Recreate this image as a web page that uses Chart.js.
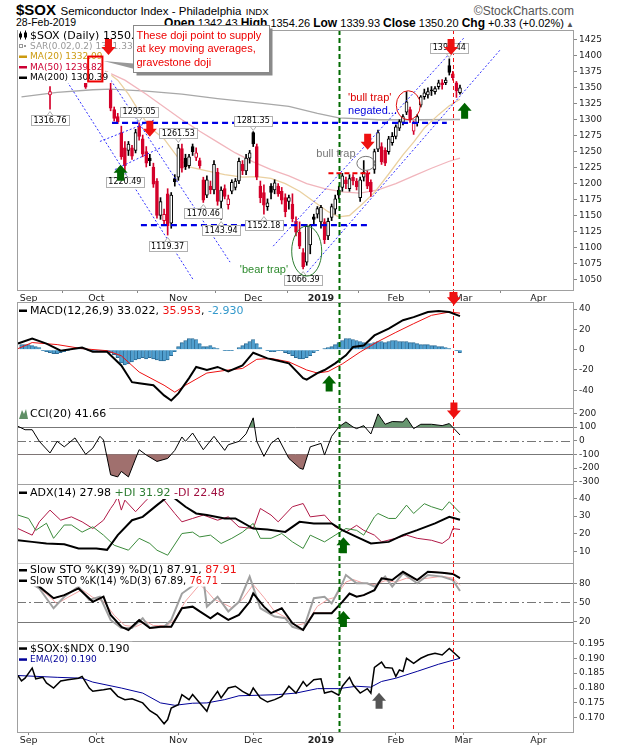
<!DOCTYPE html>
<html>
<head>
<meta charset="utf-8">
<title>$SOX Semiconductor Index</title>
<script src="https://cdn.jsdelivr.net/npm/chart.js@4.4.1/dist/chart.umd.min.js"></script>
<style>
  body { margin: 0; background: #fff; }
  #page { position: relative; width: 620px; height: 750px; overflow: hidden; font-family: "Liberation Sans", Arial, sans-serif; color: #000; }
  #page canvas { position: absolute; left: 0; }
  .txt { position: absolute; white-space: nowrap; line-height: 1; }
  .txt b { font-size: 12px; }
</style>
</head>
<body>
<div id="page">
  <div class="txt" style="left:16px; top:2px;"><b style="font-size:15px;">$SOX</b> <span style="font-size:11.5px;">Semiconductor Index - Philadelphia</span> <span style="font-size:9.5px;">INDX</span></div>
  <div class="txt" style="right:46px; top:5px; font-size:12px; color:#555;">&copy;StockCharts.com</div>
  <div class="txt" style="left:16px; top:17px; font-size:10.5px;">28-Feb-2019</div>
  <div class="txt" style="right:46px; top:16.5px; font-size:11px;"><b>Open</b> 1342.43 <b>High</b> 1354.26 <b>Low</b> 1339.93 <b>Close</b> 1350.20 <b>Chg</b> +0.33 (+0.02%)<span style="font-size:8px; color:#555;"> &#9650;</span></div>
  <canvas id="cMain" width="620" height="284" style="top:20px"></canvas>
  <canvas id="cMacd" width="620" height="116" style="top:292px"></canvas>
  <canvas id="cCci" width="620" height="84" style="top:400px"></canvas>
  <canvas id="cAdx" width="620" height="87" style="top:476px"></canvas>
  <canvas id="cSto" width="620" height="86" style="top:555px"></canvas>
  <canvas id="cRatio" width="620" height="117" style="top:633px"></canvas>
</div>
<script>
// x axis: trading-day index, 0 = 30-Aug-2018 ... 123 = 28-Feb-2019
const monthTicks = [2, 21, 44, 65, 84, 105, 124, 145];
const monthLabels = ['Sep', 'Oct', 'Nov', 'Dec', '2019', 'Feb', 'Mar', 'Apr'];

// daily candles
const opens = [1405,1402,1404,1386,1372,1366,1380,1372,1339,1365,1370,1382,1372,1370,1386,1390,1398,1388,1357,1366,
  1374,1376,1372,1370,1368,1347,1316,1305,1280,1256,1252,1256,1252,1290,1270,1250,1240,1226,1204,1150,
  1142,1184,1138,1208,1210,1255,1240,1228,1258,1241,1236,1206,1182,1196,1190,1218,1172,1192,1167,1188,
  1194,1204,1230,1220,1240,1280,1258,1196,1186,1164,1196,1190,1196,1188,1178,1172,1168,1141,1124,1092,
  1077,1104,1148,1152,1140,1140,1118,1147,1160,1190,1194,1206,1192,1210,1204,1178,1210,1216,1202,1222,
  1254,1258,1252,1250,1264,1274,1287,1296,1312,1316,1282,1295,1323,1336,1339,1347,1344,1352,1358,1358,
  1385,1372,1358,1342.43];
const highs = [1418,1412,1410,1392,1380,1382,1388,1378,1352,1374,1388,1390,1378,1388,1396,1402,1404,1396,1360,1378,
  1382,1390,1395,1376,1374,1358,1320,1310,1290,1266,1266,1260,1285,1295.05,1276,1258,1246,1232,1208,1178,
  1160,1192,1186,1214,1261.53,1262,1246,1246,1262,1256,1240,1210,1212,1204,1236,1224,1195,1198,1182,1206,
  1208,1240,1236,1246,1252,1281.35,1262,1204,1198,1176,1200,1206,1200,1194,1184,1182,1184,1148,1140,1098,
  1136,1136,1152,1164,1166,1145,1146,1168,1182,1196,1216,1210,1214,1214,1208,1210,1236,1220,1206,1254,
  1284,1264,1256,1274,1280,1292,1300,1308,1344,1320,1298,1308,1338,1348,1350,1352,1352,1362,1363,1366,
  1395.44,1376,1360,1354.26];
const lows = [1396,1392,1384,1366,1363,1364,1368,1363,1316.76,1362,1366,1370,1363,1366,1378,1385,1386,1378,1349,1363,
  1366,1368,1369,1364,1363,1314,1298,1294,1238,1220.49,1244,1238,1248,1268,1242,1226,1228,1194,1146,1144,
  1136,1119.37,1130,1196,1205,1218,1222,1224,1244,1236,1224,1170.46,1178,1184,1184,1166,1143.94,1176,1160,1184,
  1190,1200,1214,1214,1232,1258,1206,1170,1152.18,1158,1176,1184,1180,1168,1148,1160,1140,1118,1098,1066.39,
  1072,1090,1136,1146,1130,1106,1112,1142,1152,1176,1188,1192,1188,1198,1190,1172,1204,1192,1180,1216,
  1250,1230,1228,1246,1260,1270,1283,1292,1308,1296,1277,1290,1320,1332,1334,1338,1340,1348,1348,1355,
  1370,1362,1335,1339.93];
const closes = [1402,1408,1390,1372,1368,1378,1372,1366,1344,1370,1384,1376,1367,1385,1382,1399,1391,1394,1351,1374,
  1370,1380,1371,1367,1366,1318,1302,1297,1242,1228,1262,1243,1280,1274,1246,1232,1236,1199,1150,1172,
  1152,1134,1182,1203,1256,1224,1226,1242,1250,1248,1228,1174,1206,1190,1230,1172,1190,1180,1176,1202,
  1204,1235,1220,1240,1248,1262,1210,1178,1166,1170,1186,1201,1184,1174,1156,1178,1145,1124,1102,1070,
  1133,1135,1144,1161,1163,1112,1141,1164,1176,1182,1212,1200,1208,1204,1195,1206,1218,1196,1187,1250,
  1280,1234,1232,1270,1274,1289,1297,1305,1328,1300,1295,1305,1336,1342,1344,1345,1349,1358,1355,1362,
  1374,1366,1345,1350.20];

// moving averages (index, value)
const ma20Idx = [0,10,20,24,27,30,33,36,40,44,47,52,57,62,66,70,74,78,82,86,89,92,95,99,103,107,110,113,117,120,123];
const ma20Val = [1385,1380,1378,1375,1362,1340,1313,1288,1270,1240,1226,1220,1214,1210,1211,1208,1200,1188,1172,1156,1148,1150,1165,1186,1215,1245,1265,1287,1308,1322,1332.09];
const ma50Idx = [0,10,20,29,35,40,45,50,55,60,65,70,75,80,85,90,95,100,105,110,115,120,123];
const ma50Val = [1395,1392,1385,1362,1340,1320,1300,1282,1265,1248,1234,1222,1212,1200,1192,1187,1185,1190,1200,1212,1224,1235,1239.82];
const ma200Idx = [0,10,20,25,35,45,55,67,75,83,89,100,112,123];
const ma200Val = [1336,1343,1347,1348,1345,1340,1333,1326,1321,1310,1303,1300,1300,1300.39];

// price tags on highs / lows
const tagIdx = [8, 29, 33, 41, 44, 51, 56, 65, 68, 79, 120];
const tagOnHigh = [false, false, true, false, true, false, false, true, false, false, true];

// drawn trend lines [i0, p0, i1, p1] and levels [i0, i1, price]
const trendLines = [[8.0,1402,48.1,1050],[22.6,1383,58.5,1077],[22.0,1266,37.4,1300],[26.2,1222,39.7,1258],[70.6,1102,124.4,1430],[80.1,1061,134.2,1409]];
const levelLines = [[25.4,119.3,1295],[33.5,96.9,1135]];
const trapLevel = [86.1,97.8,1216];
const eventGreen = 89, eventRed = 121;

// MACD(12,26,9)
const macdIdx = [-1,3,7,11,17,20,24,28,31,33,37,40,42,44,47,49,52,55,58,62,65,69,72,75,79,80,83,85,88,91,93,96,99,103,107,110,114,117,120,123];
const macdVal = [6,11,6,-1,2,-2,-2,-15.5,-32,-33,-35,-45,-50,-43,-28,-17,-20,-17,-21.5,-15.5,-3,-8.6,-11,-13.5,-28,-29.5,-23,-20,-13.5,-5.6,2.6,4,14,20.7,29,32,37,38,37,33.02];
const sigIdx = [-1,3,10,17,24,28,33,40,43,46,52,58,62,66,70,75,80,83,86,90,95,100,105,110,115,120,123];
const sigVal = [1,7,5,1,-1,-6,-22,-35,-41.8,-35,-23,-20,-18.5,-9.5,-8.6,-12,-20,-23,-21.5,-14,-2.3,8,17,25.6,33.8,37,35.95];
const histVal = [5,5,5,4,3,2,-1,-2,-3,-4,-4,-3,-2,-1,0,1,1,1,0,-1,-1,-1,-1,-1,-2,-3,-5,-8,-13,-15,
  -14,-12,-10,-9,-8,-9,-8,-9,-10,-11,-11,-10,-6,-2,3,7,9,11,11,10,6,3,3,4,2,1,0,-1,-1,-1,
  0,2,4,6,8,10,6,2,0,-1,-2,-2,-1,-1,-3,-4,-6,-8,-9,-9,-8,-6,-3,-1,0,1,2,3,5,7,
  9,11,11,10,9,8,7,6,6,7,8,8,7,8,9,9,8,8,8,7,7,6,5,5,5,4,4,3,3,2,1,0,-1,-2.93];

// CCI(20)
const cciIdx = [-1,1,3,5,8,10,12,15,16,18,20,22,23,25,27,28,30,33,35,38,41,43,45,46,48,51,54,57,58,61,63,65,66,68,70,72,75,78,79,81,84,85,87,89,91,93,94,96,98,100,102,104,107,108,110,112,115,118,120,123];
const cciVal = [105,80,80,-5,-90,-5,-45,20,-20,-100,-55,32,5,-250,-265,-225,-265,-66,-105,-152,-130,-71,27,-5,56,-66,32,-71,-30,-5,50,167,-5,-115,-20,20,-130,-200,-210,-45,-20,-105,32,100,137,100,88,110,49,196,120,140,137,167,88,120,120,110,125,41.66];

// ADX(14), +DI, -DI
const adxIdx = [-1,3,7,12,16,21,24,27,31,34,38,41,43,46,49,52,57,60,65,69,74,78,82,87,90,94,98,103,107,111,116,120,123];
const adxVal = [16.4,15.5,14.6,14.2,11.8,11.8,11,19.3,27.7,29.6,36.2,40.9,40,35.3,31.5,30.6,28.7,28.7,23,22.5,21.1,26.8,25.9,25.9,22.1,18.3,14.6,15.5,19.3,22.1,25.9,29.6,27.98];
const pdiIdx = [-1,2,4,7,9,12,14,17,20,23,26,30,33,36,38,41,45,48,50,53,56,59,62,65,67,70,73,76,79,81,85,88,91,94,96,99,100,103,105,108,110,113,115,118,120,123];
const pdiVal = [30.6,28.7,22,26,17.5,25,25,21,24,19.3,13.6,10.8,17.5,14.6,10.8,8,20.2,21,18.3,19.3,14.6,17.5,21,25.9,17.5,17.5,20.2,15.5,11.8,19.3,15.5,19.3,23,22,19.3,29.6,31.5,28.7,28.7,36.2,31.5,37,35.3,33.4,38.1,31.92];
const mdiIdx = [-1,3,5,8,11,14,17,20,23,25,26,27,28,29,32,35,37,40,43,45,48,51,55,58,61,65,67,70,72,76,79,81,85,88,91,94,96,99,101,105,108,111,115,118,120,121,123];
const mdiVal = [23,19.3,26.8,33.4,27.7,29.6,26.8,23,27.7,34.3,37.1,40.9,33.4,39,32.5,39,42.8,39,31.5,26.8,28.7,30.6,27.7,29.6,23.9,23,34.3,30.6,26.8,35.3,37.1,29.6,30.6,23.9,21,24.8,22,19.3,15.5,17.5,19.3,17.5,16.4,14.6,17.5,23,22.48];

// Slow stochastics
const k39Idx = [-1,2,5,9,12,16,20,23,25,28,30,33,36,39,42,45,48,50,53,55,58,61,64,65,68,70,73,76,79,82,85,87,90,92,94,96,99,101,104,107,111,114,118,121,123];
const k39Val = [86,84,74.7,56.6,61.5,72,51,59,30.5,12,7,22.7,10,12,12,41,43.5,36,25.3,33.3,22.7,30.5,51,64.3,43.5,33.3,41,17.5,7,33.3,33.3,33.3,51,64,59,61.5,69.3,87.8,85.2,98,85,98,96.6,94.5,87.91];
const k14Idx = [-1,2,5,9,12,16,19,22,25,28,31,34,36,40,42,45,49,51,52,55,58,61,64,67,71,74,76,79,82,85,87,90,91,94,97,99,102,104,107,111,114,118,121,123];
const k14Val = [85,82,72,41,59,74.7,54,59,22.7,10,10,25.3,10,12,22.7,64,80,87.8,43.5,59,36,51,90.4,41,28,25.3,12,7,56.6,59,48.5,80,93,80,80,74.7,90.4,74.7,95.6,80,93,90.4,85,67.89];
const d3Idx = [-1,3,6,10,13,17,20,23,26,29,32,35,37,41,43,46,50,52,54,56,59,62,65,68,71,75,77,80,83,86,88,91,93,96,99,102,105,108,111,114,118,121,123];
const d3Val = [84,80,68,48,58,70,58,52,30,14,12,20,14,14,24,52,78,68,55,50,42,55,78,58,36,24,14,18,44,55,58,82,86,80,78,84,82,88,86,88,91,88,76.71];

// $SOX:$NDX ratio and EMA(20)
const ratIdx = [-1,0,1,3,4,6,7,9,11,13,16,17,19,20,23,25,27,29,31,34,36,38,40,41,42,44,45,47,48,50,52,53,55,56,58,60,62,64,65,67,69,71,73,75,77,79,80,82,84,85,87,89,90,92,93,95,97,98,99,101,102,104,105,106,107,108,110,112,114,116,118,119,120,121,123];
const ratVal = [0.1842,0.1824,0.1833,0.1867,0.1831,0.1836,0.1817,0.18,0.1824,0.1828,0.1833,0.1839,0.18,0.1789,0.1794,0.1798,0.1772,0.1761,0.1764,0.175,0.1724,0.1709,0.168,0.1694,0.1733,0.1744,0.1778,0.1761,0.1778,0.175,0.1722,0.1755,0.1789,0.1767,0.18,0.1806,0.1789,0.1776,0.18,0.1767,0.1753,0.1761,0.1772,0.1806,0.1783,0.1822,0.1806,0.1828,0.1831,0.1783,0.1789,0.1776,0.1806,0.1836,0.1811,0.1783,0.1798,0.1783,0.1869,0.1887,0.1869,0.1867,0.1839,0.1861,0.1856,0.19,0.1883,0.19,0.1911,0.1917,0.1911,0.1922,0.1933,0.1922,0.19];
const emaIdx = [-1,10,17,20,28,34,39,43,48,52,57,61,67,72,77,83,89,94,98,101,105,111,117,123];
const emaVal = [0.1842,0.1836,0.1833,0.182,0.18,0.1783,0.175,0.1742,0.1749,0.175,0.1761,0.1774,0.1776,0.1778,0.1783,0.1798,0.1798,0.1806,0.1803,0.1822,0.1833,0.1856,0.188,0.19];

// axis ticks
const priceTicks = [1050,1075,1100,1125,1150,1175,1200,1225,1250,1275,1300,1325,1350,1375,1400,1425];
const macdTicks = [-40,-20,0,20,40];
const cciTicks = [-300,-200,-100,0,100,200];
const adxTicks = [10,20,30,40];
const stoTicks = [20,50,80];
const ratioTicks = [0.170,0.175,0.180,0.185,0.190,0.195];

const FONT = 'DejaVu Sans';
const SANS = 'Liberation Sans';
const xMin = -1.26, xMax = 154.98;
const RED = '#d4002a';

const pts = (xs, ys) => xs.map((x, k) => ({ x, y: ys[k] }));
const lineDs = (data, color, width, order, dash) => ({
  type: 'line', data, borderColor: color, borderWidth: width, borderDash: dash || [],
  pointRadius: 0, fill: false, order
});

function arrow(ctx, x, tipY, down, color) {
  const d = down ? 1 : -1, baseY = tipY - d * 16, neckY = tipY - d * 8;
  ctx.beginPath();
  ctx.moveTo(x, tipY);
  ctx.lineTo(x - 7, neckY); ctx.lineTo(x - 3.5, neckY); ctx.lineTo(x - 3.5, baseY);
  ctx.lineTo(x + 3.5, baseY); ctx.lineTo(x + 3.5, neckY); ctx.lineTo(x + 7, neckY);
  ctx.closePath();
  ctx.fillStyle = color;
  ctx.fill();
}

function legendIcon(ctx, icon, x, y) {
  if (icon.type === 'line') {
    ctx.fillStyle = icon.color; ctx.fillRect(x, y - 1, 8, 2.5);
  } else if (icon.type === 'candle') {
    ctx.fillStyle = '#000';
    ctx.fillRect(x + 1, y - 4, 1, 8); ctx.fillRect(x, y - 2, 3, 4);
    ctx.fillRect(x + 6, y - 5, 1, 9); ctx.fillRect(x + 5, y - 3, 3, 5);
  } else if (icon.type === 'sar') {
    ctx.strokeStyle = '#999'; ctx.lineWidth = 1;
    ctx.strokeRect(x + 0.5, y - 1.5, 3, 3);
    ctx.fillStyle = '#999'; ctx.fillRect(x + 5, y - 1, 2, 2);
  } else if (icon.type === 'mountain') {
    ctx.fillStyle = '#5f8f65';
    ctx.beginPath(); ctx.moveTo(x, y + 5); ctx.lineTo(x + 3, y - 4); ctx.lineTo(x + 5, y);
    ctx.lineTo(x + 7, y - 5); ctx.lineTo(x + 9, y + 5); ctx.closePath(); ctx.fill();
  }
}

function drawLegend(ctx, a, rows) {
  rows.forEach(r => {
    const y = a.top + r.dy;
    ctx.font = r.size + 'px "' + FONT + '"';
    let w = 0;
    r.parts.forEach(p => { w += ctx.measureText(p[0]).width; });
    ctx.fillStyle = '#fff';
    ctx.fillRect(a.left + 1, y - r.size / 2 - 1, 15 + w, r.size + 2);
    legendIcon(ctx, r.icon, a.left + 2, y);
    ctx.textBaseline = 'middle'; ctx.textAlign = 'left';
    let x = a.left + 13;
    r.parts.forEach(p => {
      ctx.fillStyle = p[1]; ctx.fillText(p[0], x, y + 0.5);
      x += ctx.measureText(p[0]).width;
    });
  });
}

function vline(ctx, x, top, bottom, color, width, dash) {
  ctx.save();
  ctx.strokeStyle = color; ctx.lineWidth = width; ctx.setLineDash(dash);
  ctx.beginPath(); ctx.moveTo(x, top); ctx.lineTo(x, bottom); ctx.stroke();
  ctx.restore();
}

function decor(o) {
  return {
    id: 'decor',
    beforeDatasetsDraw(chart) {
      const { ctx, chartArea: a, scales } = chart;
      ctx.save();
      ctx.strokeStyle = '#777'; ctx.lineWidth = 1;
      (o.refLines || []).forEach(r => {
        const y = Math.round(scales.y.getPixelForValue(r[0])) + 0.5;
        ctx.setLineDash(r[1] ? [9, 3, 2, 3] : []);
        ctx.beginPath(); ctx.moveTo(a.left, y); ctx.lineTo(a.right, y); ctx.stroke();
      });
      ctx.restore();
    },
    afterDatasetsDraw(chart) {
      const { ctx, chartArea: a, scales } = chart;
      const bottom = o.lineToEdge ? chart.height : a.bottom;
      vline(ctx, Math.round(scales.x.getPixelForValue(eventGreen)) + 0.5, a.top, bottom, '#006a00', 2, [5, 3]);
      vline(ctx, Math.round(scales.x.getPixelForValue(eventRed)) + 0.5, a.top, bottom, '#ee1111', 1, [4, 3]);
      if (o.overData) o.overData(chart);
    },
    afterDraw(chart) {
      const { ctx, chartArea: a, scales } = chart;
      ctx.save();
      ctx.strokeStyle = '#a0a0a0'; ctx.lineWidth = 1; ctx.setLineDash([]);
      ctx.strokeRect(a.left + 0.5, a.top + 0.5, a.right - a.left - 1, a.bottom - a.top);
      drawLegend(ctx, a, o.legend);
      if (o.onTop) o.onTop(chart);
      (o.arrows || []).forEach(ar => {
        arrow(ctx, scales.x.getPixelForValue(ar[0]), scales.y.getPixelForValue(ar[1]), ar[2], ar[3]);
      });
      ctx.restore();
    }
  };
}

function panel(id, o) {
  const boldTick = monthTicks[monthLabels.indexOf('2019')];
  return new Chart(document.getElementById(id), {
    type: 'line',
    data: { datasets: o.datasets },
    options: {
      responsive: false,
      animation: false,
      events: [],
      layout: { padding: { left: 17, right: 0, top: o.padTop, bottom: 0 } },
      plugins: { legend: { display: false }, tooltip: { enabled: false } },
      scales: {
        x: {
          type: 'linear', min: xMin, max: xMax, offset: false,
          display: !!o.xHeight,
          afterBuildTicks: s => { s.ticks = monthTicks.map(v => ({ value: v })); },
          afterFit: s => { if (o.xHeight) s.height = o.xHeight; s.paddingLeft = 0; s.paddingRight = 0; },
          grid: { drawOnChartArea: false, tickLength: 3, color: '#888' },
          border: { display: false },
          ticks: {
            autoSkip: false, maxRotation: 0, padding: 0, color: '#222',
            callback: v => monthLabels[monthTicks.indexOf(v)],
            font: c => ({ family: FONT, size: 9.5, weight: (c.tick && c.tick.value === boldTick) ? 'bold' : 'normal' })
          }
        },
        y: {
          position: 'right', min: o.yMin, max: o.yMax,
          afterBuildTicks: s => { s.ticks = o.yTicks.map(v => ({ value: v })); },
          afterFit: s => { s.width = 46; s.paddingTop = 0; s.paddingBottom = 0; },
          grid: { drawOnChartArea: false, tickLength: 3, color: '#888' },
          border: { display: false },
          ticks: { padding: 2, color: '#222', font: { family: FONT, size: 9 }, callback: o.yFmt || (v => String(v)) }
        }
      }
    },
    plugins: [decor(o)]
  });
}

// ---------- main price panel ----------
const candleColor = closes.map((c, k) => (c < (k ? closes[k - 1] : opens[k]) ? RED : '#000'));
const candleFill = closes.map((c, k) => (c < opens[k] ? candleColor[k] : '#fff'));

const mainDatasets = [
  {
    type: 'bar', data: opens.map((op, k) => ({ x: k, y: [Math.min(op, closes[k]), Math.max(op, closes[k])] })),
    backgroundColor: candleFill, borderColor: candleColor, borderWidth: 1, borderSkipped: false,
    barThickness: 3, minBarLength: 1, grouped: false, order: 1
  },
  {
    type: 'bar', data: highs.map((h, k) => ({ x: k, y: [lows[k], h] })),
    backgroundColor: candleColor, borderWidth: 0, barThickness: 1, grouped: false, order: 2
  },
  lineDs(pts(ma200Idx, ma200Val), '#a8a8a8', 1.3, 6),
  lineDs(pts(ma50Idx, ma50Val), '#f1b5bc', 1.3, 5),
  lineDs(pts(ma20Idx, ma20Val), '#ead0a0', 1.3, 4)
];
trendLines.forEach(t => mainDatasets.push(lineDs([{ x: t[0], y: t[1] }, { x: t[2], y: t[3] }], '#3030ff', 1, 0, [2, 2])));
levelLines.forEach(t => mainDatasets.push(lineDs([{ x: t[0], y: t[2] }, { x: t[1], y: t[2] }], '#0000e6', 2.2, 0, [6, 4])));
mainDatasets.push(lineDs([{ x: trapLevel[0], y: trapLevel[2] }, { x: trapLevel[1], y: trapLevel[2] }], '#ee0000', 2, 0, [5, 3]));

function priceTag(ctx, x, yPt, text, above) {
  ctx.font = '8px "' + FONT + '"';
  const w = Math.round(ctx.measureText(text).width) + 5, h = 10;
  const cy = above ? yPt - 11 : yPt + 11;
  const left = Math.round(x - w / 2) + 0.5, top = Math.round(cy - h / 2) + 0.5;
  const edge = above ? top + h : top;
  ctx.fillStyle = '#fff'; ctx.strokeStyle = '#b0b0b0'; ctx.lineWidth = 1;
  ctx.beginPath(); ctx.moveTo(x - 3, edge); ctx.lineTo(x, above ? edge + 4 : edge - 4); ctx.lineTo(x + 3, edge);
  ctx.closePath(); ctx.fill(); ctx.stroke();
  ctx.fillRect(left, top, w, h); ctx.strokeRect(left, top, w, h);
  ctx.fillStyle = '#000'; ctx.textAlign = 'center'; ctx.textBaseline = 'middle';
  ctx.fillText(text, x, cy + 0.5);
}

function ellipse(ctx, x, y, rx, ry, color) {
  ctx.strokeStyle = color; ctx.lineWidth = 1; ctx.setLineDash([]);
  ctx.beginPath(); ctx.ellipse(x, y, rx, ry, 0, 0, Math.PI * 2); ctx.stroke();
}

function label(ctx, text, x, y, color, align) {
  ctx.font = '11px "' + SANS + '"';
  ctx.fillStyle = color; ctx.textAlign = align; ctx.textBaseline = 'middle';
  ctx.fillText(text, x, y);
}

panel('cMain', {
  padTop: 10, xHeight: 14, lineToEdge: true,
  yMin: 1033.3, yMax: 1440.6, yTicks: priceTicks,
  datasets: mainDatasets,
  legend: [
    { dy: 5.5, size: 11, icon: { type: 'candle' }, parts: [['$SOX (Daily) 1350.20', '#000']] },
    { dy: 16, size: 9, icon: { type: 'sar' }, parts: [['SAR(0.02,0.2) 1311.33', '#999']] },
    { dy: 26.5, size: 9, icon: { type: 'line', color: '#cc9a10' }, parts: [['MA(20) 1332.09', '#cc9a10']] },
    { dy: 37, size: 9, icon: { type: 'line', color: '#cc0033' }, parts: [['MA(50) 1239.82', '#cc0033']] },
    { dy: 47.5, size: 9, icon: { type: 'line', color: '#000' }, parts: [['MA(200) 1300.39', '#000']] }
  ],
  overData(chart) {
    const { ctx, scales: { x, y } } = chart;
    ctx.save();
    tagIdx.forEach((i, k) => {
      const v = tagOnHigh[k] ? highs[i] : lows[i];
      priceTag(ctx, x.getPixelForValue(i), y.getPixelForValue(v), v.toFixed(2), tagOnHigh[k]);
    });
    ellipse(ctx, x.getPixelForValue(108.5), y.getPixelForValue(1322.7), 12, 14.5, '#e01010');
    ellipse(ctx, x.getPixelForValue(96.6), y.getPixelForValue(1231.7), 9, 7, '#777');
    ellipse(ctx, x.getPixelForValue(80.0), y.getPixelForValue(1094.2), 15, 25, '#2e7d32');
    label(ctx, "'bull trap'", x.getPixelForValue(91.6), y.getPixelForValue(1334.4), '#dd0000', 'left');
    label(ctx, 'negated...', x.getPixelForValue(91.6), y.getPixelForValue(1314), '#0000dd', 'left');
    label(ctx, 'bull trap', x.getPixelForValue(88.2), y.getPixelForValue(1247), '#777', 'center');
    label(ctx, "'bear trap'", x.getPixelForValue(68.0), y.getPixelForValue(1064), '#2e8b2e', 'center');
    ctx.restore();
  },
  onTop(chart) {
    const { ctx, chartArea: a, scales: { x, y } } = chart;
    // red box round the doji
    const bx0 = x.getPixelForValue(18.7), bx1 = x.getPixelForValue(22.7);
    const by0 = y.getPixelForValue(1399), by1 = y.getPixelForValue(1360);
    ctx.strokeStyle = '#ee0000'; ctx.lineWidth = 2;
    ctx.strokeRect(bx0, by0, bx1 - bx0, by1 - by0);
    // callout box
    const cx0 = Math.round(x.getPixelForValue(31.2)) + 0.5, cx1 = Math.round(x.getPixelForValue(69.5)) + 0.5;
    const cy0 = Math.round(y.getPixelForValue(1448.4)) + 0.5, cy1 = Math.round(y.getPixelForValue(1375.5)) + 0.5;
    ctx.fillStyle = '#999';
    ctx.beginPath();
    ctx.moveTo(x.getPixelForValue(23.0), y.getPixelForValue(1392));
    ctx.lineTo(cx0, y.getPixelForValue(1388)); ctx.lineTo(cx0, y.getPixelForValue(1380));
    ctx.closePath(); ctx.fill();
    ctx.fillStyle = '#8a8a8a';
    ctx.fillRect(cx0 + 3, cy0 + 3, cx1 - cx0, cy1 - cy0);
    ctx.fillStyle = '#fff'; ctx.fillRect(cx0, cy0, cx1 - cx0, cy1 - cy0);
    ctx.strokeStyle = '#888'; ctx.lineWidth = 1; ctx.strokeRect(cx0, cy0, cx1 - cx0, cy1 - cy0);
    ctx.font = '11px "' + SANS + '"'; ctx.fillStyle = '#ee0000'; ctx.textAlign = 'left'; ctx.textBaseline = 'middle';
    ['These doji point to supply', 'at key moving averages,', 'gravestone doji'].forEach((t, k) => {
      ctx.fillText(t, cx0 + 3, cy0 + 10 + k * 13.5);
    });
    // event marker under the axis
    ctx.fillStyle = '#ee0000';
    ctx.fillRect(Math.round(x.getPixelForValue(eventRed)) - 3.5, a.bottom + 2, 7, 8);
  },
  arrows: [
    [24.4, 1401.6, true, '#ee1111'], [36.0, 1273.4, true, '#ee1111'], [97.1, 1253, true, '#ee1111'], [120.5, 1401.6, true, '#ee1111'],
    [27.8, 1229.7, false, '#006400'], [124.3, 1326.6, false, '#006400']
  ]
});

// ---------- MACD ----------
panel('cMacd', {
  padTop: 10, yMin: -57.4, yMax: 46.9, yTicks: macdTicks,
  datasets: [
    lineDs(pts(macdIdx, macdVal), '#000', 2, 0),
    lineDs(pts(sigIdx, sigVal), '#ee1111', 1, 1),
    { type: 'bar', data: histVal.map((v, k) => ({ x: k, y: v })), backgroundColor: '#4f9fcf', borderColor: '#2b6a94',
      borderWidth: { left: 1, right: 0, top: 1, bottom: 1 }, borderSkipped: 'start', barThickness: 3.6, grouped: false, order: 5 }
  ],
  legend: [{ dy: 8.5, size: 11, icon: { type: 'line', color: '#000' },
    parts: [['MACD(12,26,9) 33.022, ', '#000'], ['35.953', '#ee1111'], [', ', '#000'], ['-2.930', '#3399cc']] }],
  arrows: [[86.3, -25.3, false, '#006400'], [121.3, 43.6, true, '#ee1111']]
});

// ---------- CCI ----------
const cciPts = pts(cciIdx, cciVal);
panel('cCci', {
  padTop: 8, yMin: -317, yMax: 239, yTicks: cciTicks,
  refLines: [[100, false], [-100, false], [0, true]],
  datasets: [
    { type: 'line', data: cciPts, borderColor: '#000', borderWidth: 1, pointRadius: 0, order: 0,
      fill: { target: { value: 100 }, above: 'rgb(104,150,112)', below: 'rgba(0,0,0,0)' } },
    { type: 'line', data: cciPts, borderColor: 'rgba(0,0,0,0)', borderWidth: 0, pointRadius: 0, order: 1,
      fill: { target: { value: -100 }, above: 'rgba(0,0,0,0)', below: 'rgb(160,112,110)' } }
  ],
  legend: [{ dy: 6, size: 11, icon: { type: 'mountain' }, parts: [['CCI(20) 41.66', '#000']] }],
  arrows: [[121.3, 162, true, '#ee1111']]
});

// ---------- ADX ----------
panel('cAdx', {
  padTop: 8, yMin: 3.6, yMax: 48.1, yTicks: adxTicks,
  datasets: [
    lineDs(pts(adxIdx, adxVal), '#000', 2, 0),
    lineDs(pts(pdiIdx, pdiVal), '#3a8a3a', 1, 1),
    lineDs(pts(mdiIdx, mdiVal), '#b01846', 1, 2)
  ],
  legend: [{ dy: 8.5, size: 11, icon: { type: 'line', color: '#000' },
    parts: [['ADX(14) 27.98 ', '#000'], ['+DI 31.92 ', '#2e7d32'], ['-DI 22.48', '#a01040']] }],
  arrows: [[90.3, 18.1, false, '#006400']]
});

// ---------- Slow stochastics ----------
panel('cSto', {
  padTop: 8, yMin: -10.2, yMax: 111.7, yTicks: stoTicks,
  refLines: [[80, false], [20, false], [50, true]],
  datasets: [
    lineDs(pts(k39Idx, k39Val), '#000', 2, 0),
    lineDs(pts(k39Idx, k39Val), '#ee1111', 1, 1),
    lineDs(pts(d3Idx, d3Val), '#f3a3a3', 1, 3),
    lineDs(pts(k14Idx, k14Val), '#a0a0a0', 2, 2)
  ],
  legend: [
    { dy: 7, size: 11, icon: { type: 'line', color: '#000' }, parts: [['Slow STO %K(39) %D(1) 87.91, ', '#000'], ['87.91', '#ee1111']] },
    { dy: 17.5, size: 10, icon: { type: 'line', color: '#000' }, parts: [['Slow STO %K(14) %D(3) 67.89, ', '#000'], ['76.71', '#ee1111']] }
  ],
  arrows: [[90.3, 36.7, false, '#006400']]
});

// ---------- $SOX:$NDX ----------
panel('cRatio', {
  padTop: 8, xHeight: 18, yMin: 0.16523, yMax: 0.1958, yTicks: ratioTicks, yFmt: v => v.toFixed(3),
  datasets: [
    lineDs(pts(ratIdx, ratVal), '#000', 1.5, 0),
    lineDs(pts(emaIdx, emaVal), '#000099', 1, 1)
  ],
  legend: [
    { dy: 7.3, size: 11, icon: { type: 'line', color: '#000' }, parts: [['$SOX:$NDX 0.190', '#000']] },
    { dy: 18.3, size: 9, icon: { type: 'line', color: '#000099' }, parts: [['EMA(20) 0.190', '#000099']] }
  ],
  arrows: [[100.3, 0.17843, false, '#555']]
});
</script>
</body>
</html>
